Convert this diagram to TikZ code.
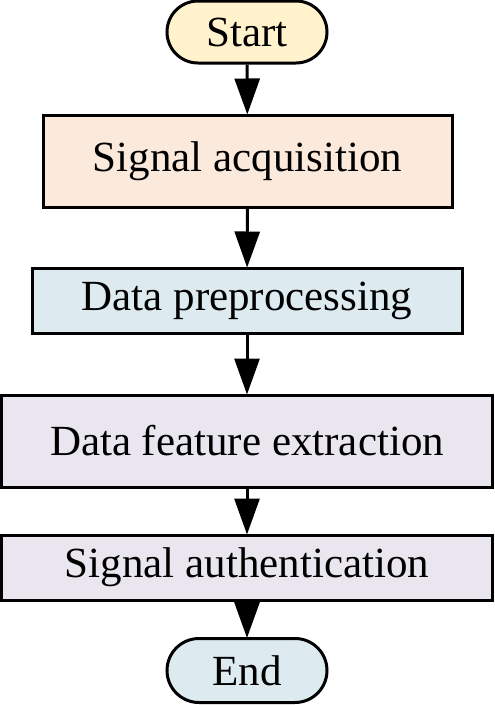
\documentclass[tikz,border=0pt]{standalone}
\usepackage{fontspec}
\setmainfont{Liberation Serif}
\usetikzlibrary{arrows.meta}
\definecolor{cstart}{HTML}{FFF2CC}
\definecolor{cacq}{HTML}{FBE9DB}
\definecolor{cblue}{HTML}{DDEBF0}
\definecolor{clav}{HTML}{E9E6EF}
\begin{document}
\begin{tikzpicture}[x=1pt,y=1pt,
  base/.style={draw=black,line width=3pt,inner sep=0pt,align=center,
    font=\fontsize{43}{47}\selectfont},
  pill/.style={base,rounded corners=31pt},
  stepbox/.style={base},
  flow/.style={line width=3pt,-{Triangle[width=25pt,length=36pt]},shorten >=-1pt}]
\useasboundingbox (0,0) rectangle (495,-705);
\node[pill,fill=cstart,minimum width=160pt,minimum height=62pt] (start) at (247,-32) {Start};
\node[stepbox,fill=cacq,minimum width=409pt,minimum height=92pt] (acq) at (247.5,-161) {Signal acquisition};
\node[stepbox,fill=cblue,minimum width=430pt,minimum height=65pt] (pre) at (247,-300.5) {Data preprocessing};
\node[stepbox,fill=clav,minimum width=491pt,minimum height=92pt] (feat) at (247,-441) {Data feature extraction};
\node[stepbox,fill=clav,minimum width=491pt,minimum height=65pt] (auth) at (247,-567.5) {Signal authentication};
\node[pill,fill=cblue,minimum width=160pt,minimum height=64pt,rounded corners=32pt] (end) at (247,-670.5) {End};
\draw[flow] (start) -- (acq);
\draw[flow] (acq) -- (pre);
\draw[flow] (pre) -- (feat);
\draw[flow] (feat) -- (auth);
\draw[flow] (auth) -- (end);
\end{tikzpicture}
\end{document}
